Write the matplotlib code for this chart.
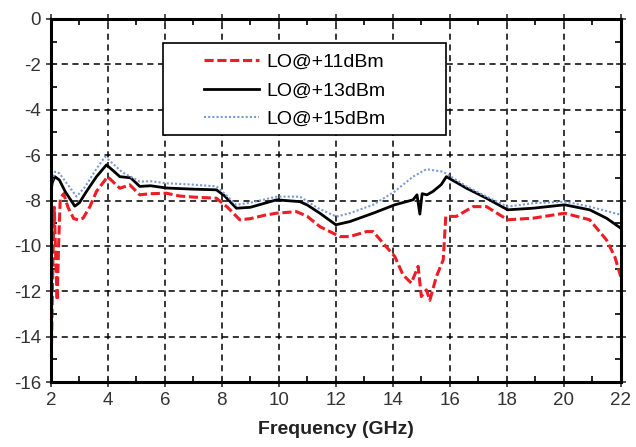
import matplotlib
matplotlib.use('Agg')
import matplotlib.pyplot as plt
from matplotlib.ticker import MultipleLocator
from matplotlib.patches import Rectangle

plt.rcParams['font.family'] = ['Liberation Sans', 'DejaVu Sans']
plt.rcParams['axes.unicode_minus'] = False

# LO@+11dBm (red dashed)
f_11 = [2.0, 2.04, 2.08, 2.12, 2.17, 2.22, 2.27, 2.33, 2.45, 2.6, 2.8, 2.96, 3.13,
        3.37, 3.6, 3.99, 4.2, 4.42, 4.77, 5.12, 5.5, 6.06, 6.5, 7.0, 7.81, 8.2, 8.63,
        9.0, 9.5, 9.92, 10.62, 11.0, 11.44, 12.14, 12.49, 13.08, 13.31, 13.66, 14.07,
        14.36, 14.65, 14.89, 15.0, 15.18, 15.3, 15.53, 15.77, 15.86, 16.23, 16.82,
        17.29, 18.03, 18.92, 20.03, 20.91, 21.5, 21.79, 22.0]
v_11 = [-16, -13, -10, -8.3, -10.5, -12.4, -10, -7.9, -7.7, -8.3, -8.8, -8.85, -8.78,
        -8.27, -7.6, -6.95, -7.2, -7.46, -7.31, -7.75, -7.7, -7.68, -7.8, -7.85, -7.9,
        -8.3, -8.85, -8.8, -8.65, -8.56, -8.49, -8.7, -9.15, -9.59, -9.59, -9.37, -9.37,
        -9.88, -10.47, -11.28, -11.64, -10.9, -12.23, -11.94, -12.4, -11.35, -10.62,
        -8.7, -8.7, -8.27, -8.27, -8.85, -8.78, -8.56, -8.85, -9.74, -10.47, -11.35]

# LO@+13dBm (black solid)
f_13 = [2.0, 2.05, 2.14, 2.3, 2.5, 2.84, 3.0, 3.25, 3.6, 3.95, 4.2, 4.42, 4.8, 5.12,
        5.5, 6.06, 7.0, 7.81, 8.1, 8.51, 9.0, 9.92, 10.74, 11.0, 11.44, 12.0, 12.49,
        13.31, 14.07, 14.71, 14.85, 14.95, 15.03, 15.2, 15.41, 15.7, 15.88, 16.59, 17.29,
        18.03, 18.92, 20.03, 20.91, 21.5, 22.0]
v_13 = [-7.6, -7.2, -6.95, -7.1, -7.6, -8.25, -8.1, -7.6, -6.95, -6.43, -6.7, -6.95,
        -7.0, -7.38, -7.35, -7.45, -7.5, -7.53, -7.8, -8.34, -8.3, -7.97, -8.05, -8.2,
        -8.56, -9.07, -8.93, -8.56, -8.19, -7.97, -7.75, -8.6, -7.7, -7.75, -7.6, -7.3,
        -6.95, -7.46, -7.9, -8.41, -8.34, -8.19, -8.41, -8.78, -9.22]

# LO@+15dBm (blue dotted)
f_15 = [2.0, 2.14, 2.3, 2.9, 3.2, 3.6, 3.9, 4.2, 4.5, 5.12, 5.5, 6.06, 7.0, 7.81, 8.1,
        8.5, 9.0, 9.92, 10.74, 11.38, 12.02, 12.49, 13.31, 14.07, 14.71, 15.18, 15.76,
        16.59, 17.29, 18.03, 18.92, 20.03, 20.91, 22.0]
v_15 = [-7.3, -6.73, -6.8, -7.83, -7.4, -6.6, -6.07, -6.4, -6.75, -7.17, -7.15, -7.24,
        -7.3, -7.38, -7.7, -8.19, -8.1, -7.83, -7.83, -8.34, -8.71, -8.56, -8.19, -7.6,
        -6.95, -6.62, -6.73, -7.38, -7.83, -8.27, -8.12, -8.05, -8.27, -8.63]

fig = plt.figure(figsize=(6.36, 4.47), dpi=100)
ax = fig.add_axes([0.080, 0.1454, 0.896, 0.8121])

ax.plot(f_11, v_11, color='#ee1c24', lw=2.2, ls=(0, (3, 1.2)), label='LO@+11dBm')
ax.plot(f_13, v_13, color='black', lw=2.0, label='LO@+13dBm')
ax.plot(f_15, v_15, color='#7b9bd2', lw=1.5, ls=(0, (1, 1)), label='LO@+15dBm')

ax.set_xlim(2, 22)
ax.set_ylim(-16, 0)
ax.xaxis.set_major_locator(MultipleLocator(2))
ax.xaxis.set_minor_locator(MultipleLocator(1))
ax.yaxis.set_major_locator(MultipleLocator(2))
ax.yaxis.set_minor_locator(MultipleLocator(1))
ax.grid(True, which='major', color='black', ls=(0, (4, 3)), lw=1.1)
ax.tick_params(which='major', direction='inout', length=7, width=1.2,
               top=True, right=True, labelsize=13.5, colors='#333333')
ax.tick_params(which='minor', direction='in', length=4, width=1.2, top=True, right=True)
for s in ax.spines.values():
    s.set_linewidth(2.2)

ax.set_xlabel('Frequency (GHz)', fontsize=14, fontweight='bold', labelpad=9, color='#222222')

# legend box drawn separately so it can be wider than its entries
ax.add_patch(Rectangle((0.1965, 0.680), 0.4965, 0.254, transform=ax.transAxes,
                       facecolor='white', edgecolor='black', lw=1.2, zorder=4))
leg = ax.legend(loc='upper left', bbox_to_anchor=(0.268, 0.905), fontsize=14,
                frameon=False, handlelength=2.85, labelspacing=0.55, borderpad=0,
                handletextpad=0.4, borderaxespad=0)
leg.set_zorder(5)

fig.savefig('out.png', dpi=100)
